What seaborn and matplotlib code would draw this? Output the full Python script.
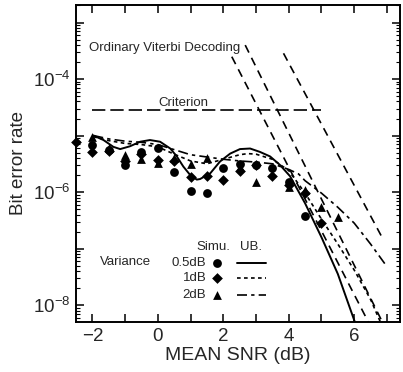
import numpy as np
import pandas as pd
import matplotlib
matplotlib.use("Agg")
import matplotlib.pyplot as plt
import seaborn as sns
from matplotlib.ticker import LogLocator, MultipleLocator, FuncFormatter, NullFormatter

# ---------------- data (log10 of bit error rate) ----------------
snr_sim = [-2.5, -2, -1.5, -1, -0.5, 0, 0.5, 1, 1.5, 2, 2.5, 3, 3.5, 4, 4.5, 5, 5.5]
sim_05db = [np.nan, -5.17, -5.25, -5.52, -5.29, -5.22, -5.65, -5.99, -6.01, -5.58,
            -5.50, -5.52, -5.58, -5.83, -6.42, np.nan, np.nan]
sim_1db = [-5.11, -5.30, -5.28, -5.45, -5.32, -5.43, -5.45, -5.73, -5.71, -5.78,
           -5.63, -5.53, -5.72, -5.87, -6.02, -6.54, np.nan]
sim_2db = [np.nan, -5.03, -5.22, -5.35, -5.42, -5.48, -5.40, -5.50, -5.40, np.nan,
           -5.56, -5.82, np.nan, -5.91, -5.97, -6.26, -6.45]

ub_05_x = [-1.97, -1.66, -1.36, -1.15, -0.85, -0.54, -0.24, 0.07, 0.38, 0.58, 0.78,
           0.99, 1.19, 1.29, 1.60, 1.90, 2.21, 2.51, 2.82, 3.12, 3.43, 3.73, 4.04,
           4.5, 5.0, 5.5, 6.02, 6.2]
ub_05_y = [-5.00, -5.08, -5.20, -5.24, -5.19, -5.11, -5.08, -5.11, -5.23, -5.37, -5.55,
           -5.70, -5.78, -5.77, -5.67, -5.46, -5.32, -5.24, -5.23, -5.29, -5.37, -5.52, -5.72,
           -6.20, -6.80, -7.45, -8.30, -8.60]

ub_1_x = [-1.97, -1.5, -1.0, -0.5, 0.0, 0.5, 1.0, 1.5, 2.0, 2.5, 2.75, 3.0, 3.5, 4.0,
          4.5, 5.0, 5.5, 6.0, 6.5, 6.8, 6.9]
ub_1_y = [-5.02, -5.09, -5.14, -5.16, -5.20, -5.33, -5.45, -5.50, -5.42, -5.34, -5.32,
          -5.33, -5.42, -5.62, -6.02, -6.48, -6.92, -7.38, -7.90, -8.30, -8.45]

ub_2_x = [-1.97, -1.5, -1.0, -0.5, 0.0, 0.5, 1.0, 1.5, 2.0, 2.5, 3.0, 3.5, 4.0, 4.3,
          4.5, 5.0, 5.5, 6.0, 6.5, 7.0]
ub_2_y = [-5.00, -5.06, -5.10, -5.12, -5.16, -5.25, -5.34, -5.38, -5.42, -5.45, -5.47,
          -5.50, -5.60, -5.68, -5.80, -6.02, -6.27, -6.55, -6.92, -7.32]

viterbi_a_x = [2.26, 6.45]
viterbi_a_y = [-3.605, -8.32]
viterbi_b_x = [2.67, 6.86]
viterbi_b_y = [-3.40, -8.30]
viterbi_c_x = [3.84, 6.84]
viterbi_c_y = [-3.545, -6.79]

criterion_x = [-2.0, 5.0]
criterion_y = [-4.55, -4.55]

xticks = [-2, 0, 2, 4, 6]
ylabel_exps = [-4, -6, -8]

def ber(v):
    return np.power(10.0, np.asarray(v, dtype=float))

# ---------------- style ----------------
sns.set_style("ticks")
plt.rcParams["font.family"] = ["Liberation Sans", "DejaVu Sans"]
plt.rcParams["mathtext.fontset"] = "custom"
plt.rcParams["mathtext.rm"] = "Liberation Sans"
plt.rcParams["mathtext.it"] = "Liberation Sans"

fig = plt.figure(figsize=(4.03, 3.72), dpi=100)
ax = fig.add_axes([0.1886, 0.1344, 0.804, 0.8522])
ax.set_yscale("log")
ax.set_xlim(-2.5, 7.4)
ax.set_ylim(10 ** -8.3, 10 ** -2.69)

k = "black"
# UB curves
sns.lineplot(x=ub_05_x, y=ber(ub_05_y), ax=ax, color=k, lw=1.4, linestyle="-")
sns.lineplot(x=ub_1_x, y=ber(ub_1_y), ax=ax, color=k, lw=1.2, linestyle=(0, (2.2, 2.0)))
sns.lineplot(x=ub_2_x, y=ber(ub_2_y), ax=ax, color=k, lw=1.2, linestyle=(0, (6, 2.5, 2, 2.5)))

# Viterbi and criterion lines
for vx, vy in [(viterbi_a_x, viterbi_a_y), (viterbi_b_x, viterbi_b_y), (viterbi_c_x, viterbi_c_y)]:
    sns.lineplot(x=vx, y=ber(vy), ax=ax, color=k, lw=1.2, linestyle=(0, (5, 3.5)))
sns.lineplot(x=criterion_x, y=ber(criterion_y), ax=ax, color=k, lw=1.2, linestyle=(0, (8, 3)))

# simulation markers
ms_o, ms_d, ms_t = 40, 30, 40
sns.scatterplot(x=snr_sim, y=ber(sim_05db), ax=ax, color=k, marker="o", s=ms_o,
                edgecolor=k, linewidth=0, clip_on=False, zorder=5)
sns.scatterplot(x=snr_sim, y=ber(sim_1db), ax=ax, color=k, marker="D", s=ms_d,
                edgecolor=k, linewidth=0, clip_on=False, zorder=5)
sns.scatterplot(x=snr_sim, y=ber(sim_2db), ax=ax, color=k, marker="^", s=ms_t,
                edgecolor=k, linewidth=0, clip_on=False, zorder=5)

# annotations
fs = 9.5
ax.text(-2.09, ber(-3.445), "Ordinary Viterbi Decoding", fontsize=fs, ha="left", va="center")
ax.text(0.78, ber(-4.43), "Criterion", fontsize=fs, ha="center", va="center")

# custom legend
ax.text(1.70, ber(-6.97), "Simu.", fontsize=fs, ha="center", va="center")
ax.text(2.84, ber(-6.97), "UB.", fontsize=fs, ha="center", va="center")
ax.text(-1.76, ber(-7.23), "Variance", fontsize=fs, ha="left", va="center")
leg_labels = ["0.5dB", "1dB", "2dB"]
leg_y = [-7.25, -7.53, -7.82]
leg_markers = [("o", ms_o), ("D", ms_d), ("^", ms_t)]
leg_styles = [(1.4, "-"), (1.2, (0, (2.2, 2.0))), (1.2, (0, (6, 2.5, 2, 2.5)))]
for lab, yy, (mk, ms), (lw, ls) in zip(leg_labels, leg_y, leg_markers, leg_styles):
    ax.text(1.48, ber(yy), lab, fontsize=fs, ha="right", va="center")
    ax.scatter([1.80], [ber(yy)], color=k, marker=mk, s=ms, linewidth=0, zorder=5)
    ax.plot([2.43, 3.31], [ber(yy), ber(yy)], color=k, lw=lw, linestyle=ls)

# axes, ticks
for sp in ax.spines.values():
    sp.set_linewidth(1.4)
    sp.set_color(k)
ax.xaxis.set_major_locator(MultipleLocator(2))
ax.xaxis.set_minor_locator(MultipleLocator(1))
ax.set_xticks(xticks)
ax.set_xticklabels([("\u2212%d" % -t) if t < 0 else "%d" % t for t in xticks])
ax.yaxis.set_major_locator(LogLocator(base=10, numticks=20))
ax.yaxis.set_minor_locator(LogLocator(base=10, subs=np.arange(2, 10), numticks=20))
ax.yaxis.set_minor_formatter(NullFormatter())

def yfmt(v, pos):
    e = int(round(np.log10(v)))
    return r"$10^{%d}$" % e if e in ylabel_exps else ""
ax.yaxis.set_major_formatter(FuncFormatter(yfmt))

ax.tick_params(which="both", direction="in", top=True, right=True, color=k)
ax.tick_params(which="major", length=6, width=1.1, labelsize=13.5, pad=4)
ax.tick_params(axis="x", which="minor", length=6, width=1.1)
ax.tick_params(axis="y", which="minor", length=3, width=0.8)

ax.set_xlabel("MEAN SNR (dB)", fontsize=14, labelpad=2)
ax.set_ylabel("Bit error rate", fontsize=13.5, labelpad=4)

fig.savefig("out.png", dpi=100, facecolor="white")
